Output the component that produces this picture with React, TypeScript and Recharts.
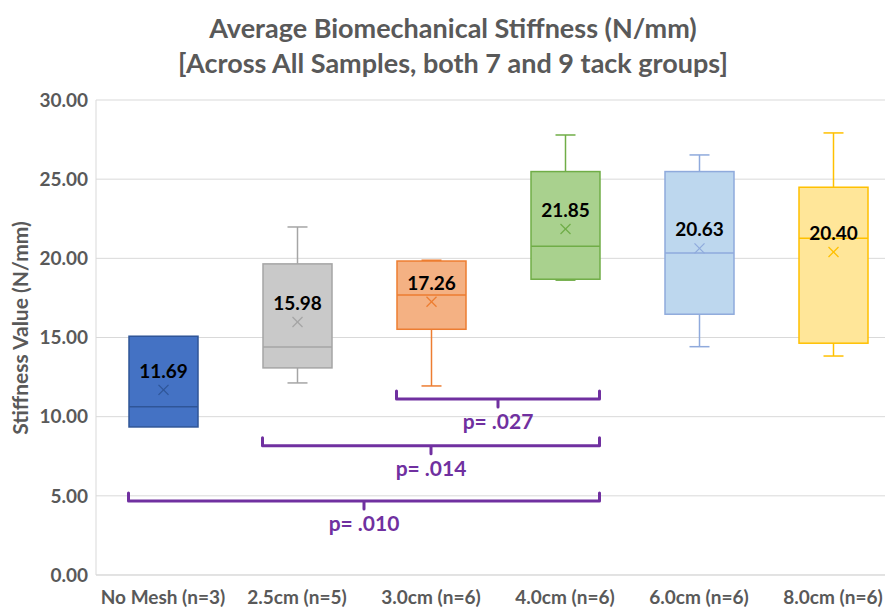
import React from "react";
import { ComposedChart, Bar, XAxis, YAxis, CartesianGrid, ReferenceLine } from "recharts";

const categories = ["No Mesh (n=3)", "2.5cm (n=5)", "3.0cm (n=6)", "4.0cm (n=6)", "6.0cm (n=6)", "8.0cm (n=6)"];
const minVals = [9.35, 12.13, 11.94, 18.62, 14.42, 13.83];
const q1Vals = [9.35, 13.08, 15.52, 18.68, 16.47, 14.64];
const medianVals = [10.63, 14.4, 17.69, 20.76, 20.34, 21.27];
const q3Vals = [15.08, 19.65, 19.83, 25.48, 25.48, 24.49];
const maxVals = [15.08, 21.98, 19.88, 27.79, 26.53, 27.92];
const meanVals = [11.69, 15.98, 17.26, 21.85, 20.63, 20.4];
const yTicks = [0, 5, 10, 15, 20, 25, 30];

// significance brackets (category index from/to, level on y axis)
const bracketFrom = [2, 1, 0];
const bracketTo = [3, 3, 3];
const bracketLevel = [11.12, 8.17, 4.67];
const bracketText = ["p= .027", "p= .014", "p= .010"];

const fills = ["#4472C4", "#C9C9C9", "#F4B183", "#A9D18E", "#BDD7EE", "#FFE699"];
const strokes = ["#2F5597", "#A5A5A5", "#ED7D31", "#70AD47", "#8FAADC", "#FFC000"];

const FONT = "Lato, 'Open Sans', sans-serif";
const GREY = "#595959";
const PURPLE = "#7030A0";
const BOX_W = 69;

const rows = categories.map((name, i) => ({
  name,
  min: minVals[i],
  q1: q1Vals[i],
  median: medianVals[i],
  q3: q3Vals[i],
  max: maxVals[i],
  mean: meanVals[i],
}));

const BoxShape = (props: any) => {
  const { x, y, width, height, payload, index } = props;
  const unit = height / payload.max;
  const toY = (v: number) => y + (payload.max - v) * unit;
  const cx = x + width / 2;
  const st = strokes[index];
  const cap = 10;
  const my = toY(payload.mean);
  const m = 5;
  return (
    <g>
      {payload.max > payload.q3 && (
        <g stroke={st} strokeWidth={1.5}>
          <line x1={cx} x2={cx} y1={toY(payload.max)} y2={toY(payload.q3)} />
          <line x1={cx - cap} x2={cx + cap} y1={toY(payload.max)} y2={toY(payload.max)} />
        </g>
      )}
      {payload.min < payload.q1 && (
        <g stroke={st} strokeWidth={1.5}>
          <line x1={cx} x2={cx} y1={toY(payload.q1)} y2={toY(payload.min)} />
          <line x1={cx - cap} x2={cx + cap} y1={toY(payload.min)} y2={toY(payload.min)} />
        </g>
      )}
      <rect x={x} y={toY(payload.q3)} width={width} height={toY(payload.q1) - toY(payload.q3)} fill={fills[index]} stroke={st} strokeWidth={1.5} />
      <line x1={x} x2={x + width} y1={toY(payload.median)} y2={toY(payload.median)} stroke={st} strokeWidth={1.5} />
      <g stroke={st} strokeWidth={1.3}>
        <line x1={cx - m} x2={cx + m} y1={my - m} y2={my + m} />
        <line x1={cx - m} x2={cx + m} y1={my + m} y2={my - m} />
      </g>
      <text x={cx} y={my - 12} textAnchor="middle" fontFamily={FONT} fontWeight={700} fontSize={19} fill="#000">
        {payload.mean.toFixed(2)}
      </text>
    </g>
  );
};

// bracket spanning from the left edge of one box to the right edge of another
const Bracket = (text: string) => (props: any) => {
  const { x1, x2, y1 } = props;
  const a = Math.min(x1, x2) - BOX_W / 2;
  const b = Math.max(x1, x2) + BOX_W / 2;
  const mid = (a + b) / 2;
  return (
    <g>
      <path
        d={`M${a},${y1 - 8} L${a},${y1} L${b},${y1} L${b},${y1 - 8} M${mid},${y1} L${mid},${y1 + 8}`}
        fill="none"
        stroke={PURPLE}
        strokeWidth={3}
        strokeLinecap="round"
        strokeLinejoin="round"
      />
      <text x={mid} y={y1 + 30} textAnchor="middle" fontFamily={FONT} fontWeight={700} fontSize={21} fill={PURPLE}>
        {text}
      </text>
    </g>
  );
};

export default function App() {
  return (
    <div style={{ position: "absolute", left: 0, top: 0, width: 885, height: 608, overflow: "hidden", background: "#fff" }}>
      <div style={{ position: "absolute", left: 0, width: 906, top: 10, textAlign: "center", fontFamily: FONT, fontWeight: 700, fontSize: 27, lineHeight: "35px", color: GREY }}>
        Average Biomechanical Stiffness (N/mm)
        <br />
        [Across All Samples, both 7 and 9 tack groups]
      </div>
      <div style={{ position: "absolute", left: 19, top: 328, width: 0, height: 0 }}>
        <div style={{ position: "absolute", transform: "translate(-50%, -50%) rotate(-90deg)", whiteSpace: "nowrap", fontFamily: FONT, fontWeight: 700, fontSize: 21, color: GREY }}>
          Stiffness Value (N/mm)
        </div>
      </div>
      <ComposedChart width={905} height={608} data={rows} margin={{ top: 100, right: 5, left: 0, bottom: 0 }}>
        <CartesianGrid vertical={false} stroke="#D9D9D9" />
        <XAxis
          dataKey="name"
          height={33}
          axisLine={{ stroke: "#D9D9D9" }}
          tickLine={false}
          tickMargin={10}
          interval={0}
          tick={{ fill: GREY, fontFamily: FONT, fontWeight: 700, fontSize: 19 }}
        />
        <YAxis
          width={96}
          domain={[0, 30]}
          ticks={yTicks}
          interval={0}
          axisLine={{ stroke: "#D9D9D9" }}
          tickLine={false}
          tickFormatter={(v: number) => v.toFixed(2)}
          tick={{ fill: GREY, fontFamily: FONT, fontWeight: 700, fontSize: 19 }}
        />
        <Bar dataKey="max" barSize={BOX_W} shape={BoxShape} isAnimationActive={false} />
        {bracketLevel.map((lvl, i) => (
          <ReferenceLine
            key={i}
            ifOverflow="visible"
            segment={[
              { x: categories[bracketFrom[i]], y: lvl },
              { x: categories[bracketTo[i]], y: lvl },
            ]}
            shape={Bracket(bracketText[i])}
          />
        ))}
      </ComposedChart>
    </div>
  );
}
